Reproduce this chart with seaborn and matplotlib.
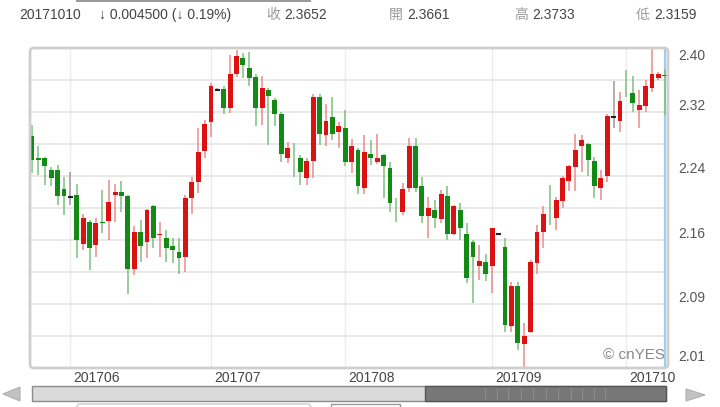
import numpy as np
import pandas as pd
import matplotlib
matplotlib.use("Agg")
import matplotlib.pyplot as plt
import matplotlib.transforms as mtransforms
from matplotlib.patches import Rectangle, Polygon, FancyBboxPatch
import seaborn as sns

# ---------------- data ----------------
opens = [2.290, 2.263, 2.263, 2.248, 2.248, 2.224, 2.214, 2.216, 2.155, 2.183,
         2.154, 2.183, 2.184, 2.216, 2.220, 2.215, 2.124, 2.170, 2.158, 2.202,
         2.166, 2.163, 2.152, 2.145, 2.139, 2.212, 2.232, 2.271, 2.308, 2.348,
         2.349, 2.325, 2.368, 2.388, 2.375, 2.364, 2.325, 2.348, 2.335, 2.318,
         2.263, 2.273, 2.263, 2.237, 2.259, 2.339, 2.291, 2.314, 2.295, 2.300,
         2.258, 2.273, 2.225, 2.268, 2.258, 2.266, 2.250, 2.198, 2.195, 2.225,
         2.277, 2.228, 2.190, 2.197, 2.186, 2.215, 2.168, 2.197, 2.168, 2.157,
         2.128, 2.132, 2.128, 2.167, 2.151, 2.053, 2.102, 2.030, 2.045, 2.131,
         2.170, 2.1905, 2.188, 2.209, 2.234, 2.251, 2.278, 2.280, 2.259, 2.225,
         2.240, 2.314, 2.309, 2.3455, 2.344, 2.323, 2.327, 2.350, 2.362, 2.3661]
highs = [2.304, 2.277, 2.264, 2.251, 2.254, 2.239, 2.245, 2.230, 2.193, 2.185,
         2.187, 2.222, 2.235, 2.230, 2.234, 2.216, 2.177, 2.185, 2.199, 2.204,
         2.183, 2.172, 2.163, 2.162, 2.216, 2.239, 2.300, 2.310, 2.356, 2.350,
         2.352, 2.391, 2.398, 2.394, 2.395, 2.368, 2.365, 2.350, 2.337, 2.320,
         2.283, 2.281, 2.266, 2.262, 2.343, 2.342, 2.330, 2.339, 2.307, 2.323,
         2.286, 2.275, 2.291, 2.285, 2.293, 2.268, 2.258, 2.212, 2.231, 2.287,
         2.288, 2.239, 2.214, 2.210, 2.223, 2.227, 2.204, 2.206, 2.181, 2.160,
         2.154, 2.143, 2.175, 2.169, 2.162, 2.107, 2.107, 2.056, 2.135, 2.179,
         2.202, 2.229, 2.214, 2.240, 2.254, 2.292, 2.291, 2.281, 2.264, 2.248,
         2.318, 2.359, 2.345, 2.372, 2.365, 2.348, 2.360, 2.405, 2.370, 2.3733]
lows = [2.244, 2.241, 2.229, 2.227, 2.204, 2.191, 2.204, 2.138, 2.148, 2.123,
        2.139, 2.169, 2.160, 2.182, 2.195, 2.093, 2.116, 2.132, 2.137, 2.150,
        2.139, 2.133, 2.131, 2.118, 2.120, 2.192, 2.219, 2.262, 2.289, 2.346,
        2.317, 2.319, 2.364, 2.362, 2.352, 2.302, 2.304, 2.279, 2.302, 2.258,
        2.256, 2.239, 2.229, 2.229, 2.237, 2.279, 2.277, 2.285, 2.275, 2.252,
        2.244, 2.218, 2.218, 2.254, 2.255, 2.212, 2.195, 2.183, 2.191, 2.220,
        2.220, 2.181, 2.162, 2.175, 2.181, 2.160, 2.166, 2.160, 2.106, 2.081,
        2.110, 2.109, 2.094, 2.166, 2.045, 2.045, 2.023, 2.000, 2.044, 2.117,
        2.150, 2.179, 2.172, 2.200, 2.221, 2.221, 2.245, 2.240, 2.213, 2.210,
        2.233, 2.300, 2.295, 2.339, 2.320, 2.300, 2.320, 2.345, 2.360, 2.3159]
closes = [2.260, 2.260, 2.253, 2.238, 2.215, 2.215, 2.214, 2.160, 2.187, 2.150,
          2.181, 2.181, 2.207, 2.220, 2.215, 2.124, 2.170, 2.153, 2.198, 2.163,
          2.168, 2.150, 2.147, 2.138, 2.213, 2.232, 2.270, 2.305, 2.352, 2.348,
          2.325, 2.368, 2.390, 2.379, 2.362, 2.325, 2.350, 2.340, 2.318, 2.268,
          2.275, 2.272, 2.245, 2.259, 2.339, 2.293, 2.309, 2.292, 2.302, 2.258,
          2.277, 2.227, 2.270, 2.263, 2.263, 2.253, 2.206, 2.1975, 2.224, 2.277,
          2.225, 2.190, 2.200, 2.188, 2.218, 2.168, 2.202, 2.175, 2.113, 2.139,
          2.134, 2.118, 2.175, 2.167, 2.054, 2.103, 2.031, 2.040, 2.132, 2.170,
          2.193, 2.190, 2.210, 2.237, 2.252, 2.273, 2.285, 2.260, 2.227, 2.238,
          2.315, 2.314, 2.334, 2.345, 2.331, 2.329, 2.353, 2.367, 2.368, 2.3652]

month_labels = ["201706", "201707", "201708", "201709", "201710"]
month_first_idx = [6, 28, 49, 72, 93]
ytick_values = [2.40, 2.32, 2.24, 2.16, 2.08, 2.01]
ytick_labels = ["2.40", "2.32", "2.24", "2.16", "2.09", "2.01"]
grid_values = [2.04, 2.08, 2.12, 2.16, 2.20, 2.24, 2.28, 2.32, 2.36]

header_date = "20171010"
header_change = "↓ 0.004500 (↓ 0.19%)"
header_names = ["收", "開", "高", "低"]
header_values = ["2.3652", "2.3661", "2.3733", "2.3159"]
watermark = "© cnYES"

# ---------------- style ----------------
sns.set_theme(style="white")
plt.rcParams["font.family"] = ["Liberation Sans", "Noto Sans CJK TC", "DejaVu Sans"]

UP_BODY, DOWN_BODY = "#dc1212", "#138a13"
UP_WICK, DOWN_WICK = "#e88a8a", "#7fbf7f"

df = pd.DataFrame({"open": opens, "high": highs, "low": lows, "close": closes})
df["idx"] = np.arange(len(df))
df["dir"] = np.sign(df["close"] - df["open"]).astype(int)

W, H = 720, 407
fig = plt.figure(figsize=(W / 100, H / 100), dpi=100)
fig.patch.set_facecolor("white")
pix = mtransforms.Affine2D().scale(1 / W, -1 / H).translate(0, 1) + fig.transFigure

ax = fig.add_axes([30 / W, 1 - 368 / H, 638 / W, 320 / H])
ax.set_xlim(-0.31, 99.5)
ax.set_ylim(2.00, 2.40)
ax.set_facecolor("white")

# grid
ax.set_yticks(grid_values)
ax.set_xticks(month_first_idx)
ax.grid(axis="y", color="#e2e2e2", lw=1.1)
ax.grid(axis="x", color="#ececec", lw=1.0)
ax.tick_params(length=0, labelleft=False, labelbottom=False)
for s in ax.spines.values():
    s.set_visible(False)

# crosshair (last bar)
ax.axvline(df["idx"].iloc[-1], color="#9ccff0", lw=1.6, zorder=1)

# wicks
wick_cols = np.where(df["dir"] > 0, UP_WICK, np.where(df["dir"] < 0, DOWN_WICK, "#9a9a9a"))
ax.vlines(df["idx"], df["low"], df["high"], colors=wick_cols, lw=1.1, zorder=2)

# bodies
bw = 0.76
nz = df[df["dir"] != 0]
ax.bar(nz["idx"], (nz["close"] - nz["open"]).abs(),
       bottom=np.minimum(nz["open"], nz["close"]), width=bw,
       color=np.where(nz["dir"] > 0, UP_BODY, DOWN_BODY), linewidth=0, zorder=3)
dj = df[df["dir"] == 0]
ax.hlines(dj["close"], dj["idx"] - bw / 2, dj["idx"] + bw / 2, colors="#222222", lw=1.5, zorder=3)

# frame
fig.add_artist(FancyBboxPatch((30, 48), 638, 320, boxstyle="round,pad=0,rounding_size=4",
                              transform=pix, fill=False, edgecolor="#cfcfcf", lw=2))

# y labels (right side)
ymax, ymin = max(ytick_values), min(ytick_values)
for v, lab in zip(ytick_values, ytick_labels):
    off = -8 if v == ymax else (3 if v == ymin else 6.5)
    ax.annotate(lab, xy=(1, v), xycoords=("axes fraction", "data"),
                xytext=(10, off), textcoords="offset pixels",
                ha="left", va="center", fontsize=10, color="#555555", annotation_clip=False)

# x labels
for i, lab in zip(month_first_idx, month_labels):
    ax.annotate(lab, xy=(i, 0), xycoords=("data", "axes fraction"),
                xytext=(3, -10), textcoords="offset pixels",
                ha="left", va="center", fontsize=10, color="#444444", annotation_clip=False)

# watermark
fig.text(665 / W, 1 - 355 / H, watermark, ha="right", va="center", fontsize=11, color="#888888")

# header
fig.add_artist(Rectangle((76, 0), 235, 2, transform=pix, color="#9a9a9a", lw=0))
hy = 1 - 15 / H
fig.text(19 / W, hy, header_date, ha="left", va="center", fontsize=10, color="#444444")
fig.text(99 / W, hy, header_change, ha="left", va="center", fontsize=10, color="#444444")
for x0, nm, val in zip([266, 389, 514, 636], header_names, header_values):
    fig.text(x0 / W, hy, nm, ha="left", va="center", fontsize=10, color="#999999")
    fig.text((x0 + 18) / W, hy, val, ha="left", va="center", fontsize=10, color="#444444")

# scrollbar
fig.add_artist(Rectangle((32, 386), 634, 15, transform=pix, facecolor="#dadada", edgecolor="#8c8c8c", lw=1))
fig.add_artist(Rectangle((425, 386), 241, 15, transform=pix, facecolor="#777777", edgecolor="#555555", lw=1))
for xl in [485, 497, 508, 521, 533, 546, 558, 571, 582, 594, 605]:
    fig.add_artist(plt.Line2D([xl, xl], [388, 399], transform=pix, color="#8e8e8e", lw=0.8))
fig.add_artist(Polygon([(3, 394), (20, 387), (20, 401)], closed=True, transform=pix,
                       facecolor="#c2c2c2", edgecolor="#b0b0b0", lw=0.8))
fig.add_artist(Polygon([(686, 389), (705, 395), (686, 401)], closed=True, transform=pix,
                       facecolor="#c2c2c2", edgecolor="#b0b0b0", lw=0.8))
fig.add_artist(FancyBboxPatch((76, 404), 235, 14, boxstyle="round,pad=0,rounding_size=4",
                              transform=pix, fill=False, edgecolor="#cccccc", lw=1))
fig.add_artist(Rectangle((331, 404), 69, 14, transform=pix, fill=False, edgecolor="#999999", lw=1))

fig.savefig("out.png", dpi=100, facecolor="white")
